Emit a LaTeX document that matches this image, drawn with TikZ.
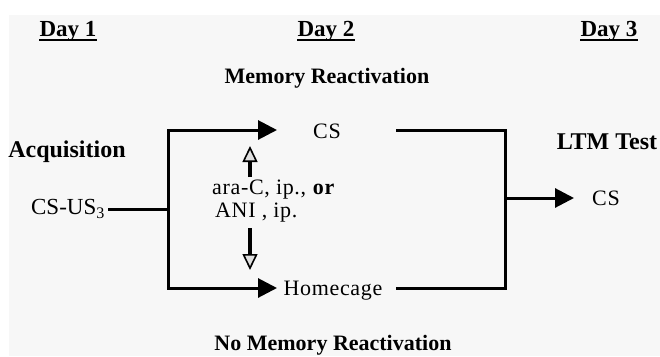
\documentclass[tikz,border=0pt]{standalone}
\usepackage{fontspec}
\setmainfont{Liberation Serif}
\usetikzlibrary{arrows.meta}
\begin{document}
\begin{tikzpicture}[x=1pt,y=-1pt,
  txt/.style={inner sep=0pt, font=\fontsize{22}{26}\selectfont\addfontfeature{LetterSpace=3}},
  head/.style={inner sep=0pt, font=\fontsize{22}{26}\selectfont\bfseries},
  daylbl/.style={inner sep=0pt, anchor=base, font=\fontsize{23}{27}\selectfont\bfseries},
  wire/.style={line width=3pt, line cap=rect},
  flow/.style={line width=3pt, -{Triangle[length=19pt,width=19pt]}},
  drug/.style={line width=3.5pt, -{Triangle[length=16pt,width=15pt,open,fill=gray!25,line width=1.6pt]}}
]
\useasboundingbox (0,0) rectangle (660,356);
\fill[black!3] (9,15) rectangle (660,356);

% day labels
\node[daylbl] (d1) at (68,36) {Day 1};
\node[daylbl] (d2) at (326,36) {Day 2};
\node[daylbl] (d3) at (609,36) {Day 3};
\foreach \d in {d1,d2,d3}
  \draw[line width=2pt] ([yshift=-4pt]\d.base west) -- ([yshift=-4pt]\d.base east);

\node[head] (mr) at (327,78) {Memory Reactivation};
\node[head] (nmr) at (333,345) {No Memory Reactivation};
\node[head, font=\fontsize{24}{28}\selectfont\bfseries] (acq) at (67,152) {Acquisition};
\node[head, font=\fontsize{24}{28}\selectfont\bfseries] (ltm) at (607,142) {LTM Test};

\node[txt, font=\fontsize{23}{27}\selectfont] (csus) at (68,209) {CS-US\textsubscript{3}};
\node[txt] (cs1) at (327,131) {CS};
\node[txt] (home) at (333,291) {Homecage};
\node[txt] (cs2) at (606,198) {CS};

\node[txt, anchor=west] (drug1) at (212,190) {ara-C, ip., \textbf{or}};
\node[txt, anchor=west] (drug2) at (215,213) {ANI , ip.};

\coordinate (split) at (168,209);
\coordinate (tipA) at (277,130);
\coordinate (tipB) at (277,288);
\coordinate (outA) at (397,130);
\coordinate (outB) at (397,288);
\coordinate (join) at (505,198);
\coordinate (tipC) at (574,198);

\draw[wire] (csus.east) ++(4pt,0) -- (split);
\draw[flow] (split) |- (tipA);
\draw[flow] (split) |- (tipB);
\draw[wire] (outA) -| (join);
\draw[wire] (outB) -| (join);
\draw[flow] (join) -- (tipC);

\draw[drug] (250,177) -- (250,146);
\draw[drug] (250,228) -- (250,270);
\end{tikzpicture}
\end{document}
